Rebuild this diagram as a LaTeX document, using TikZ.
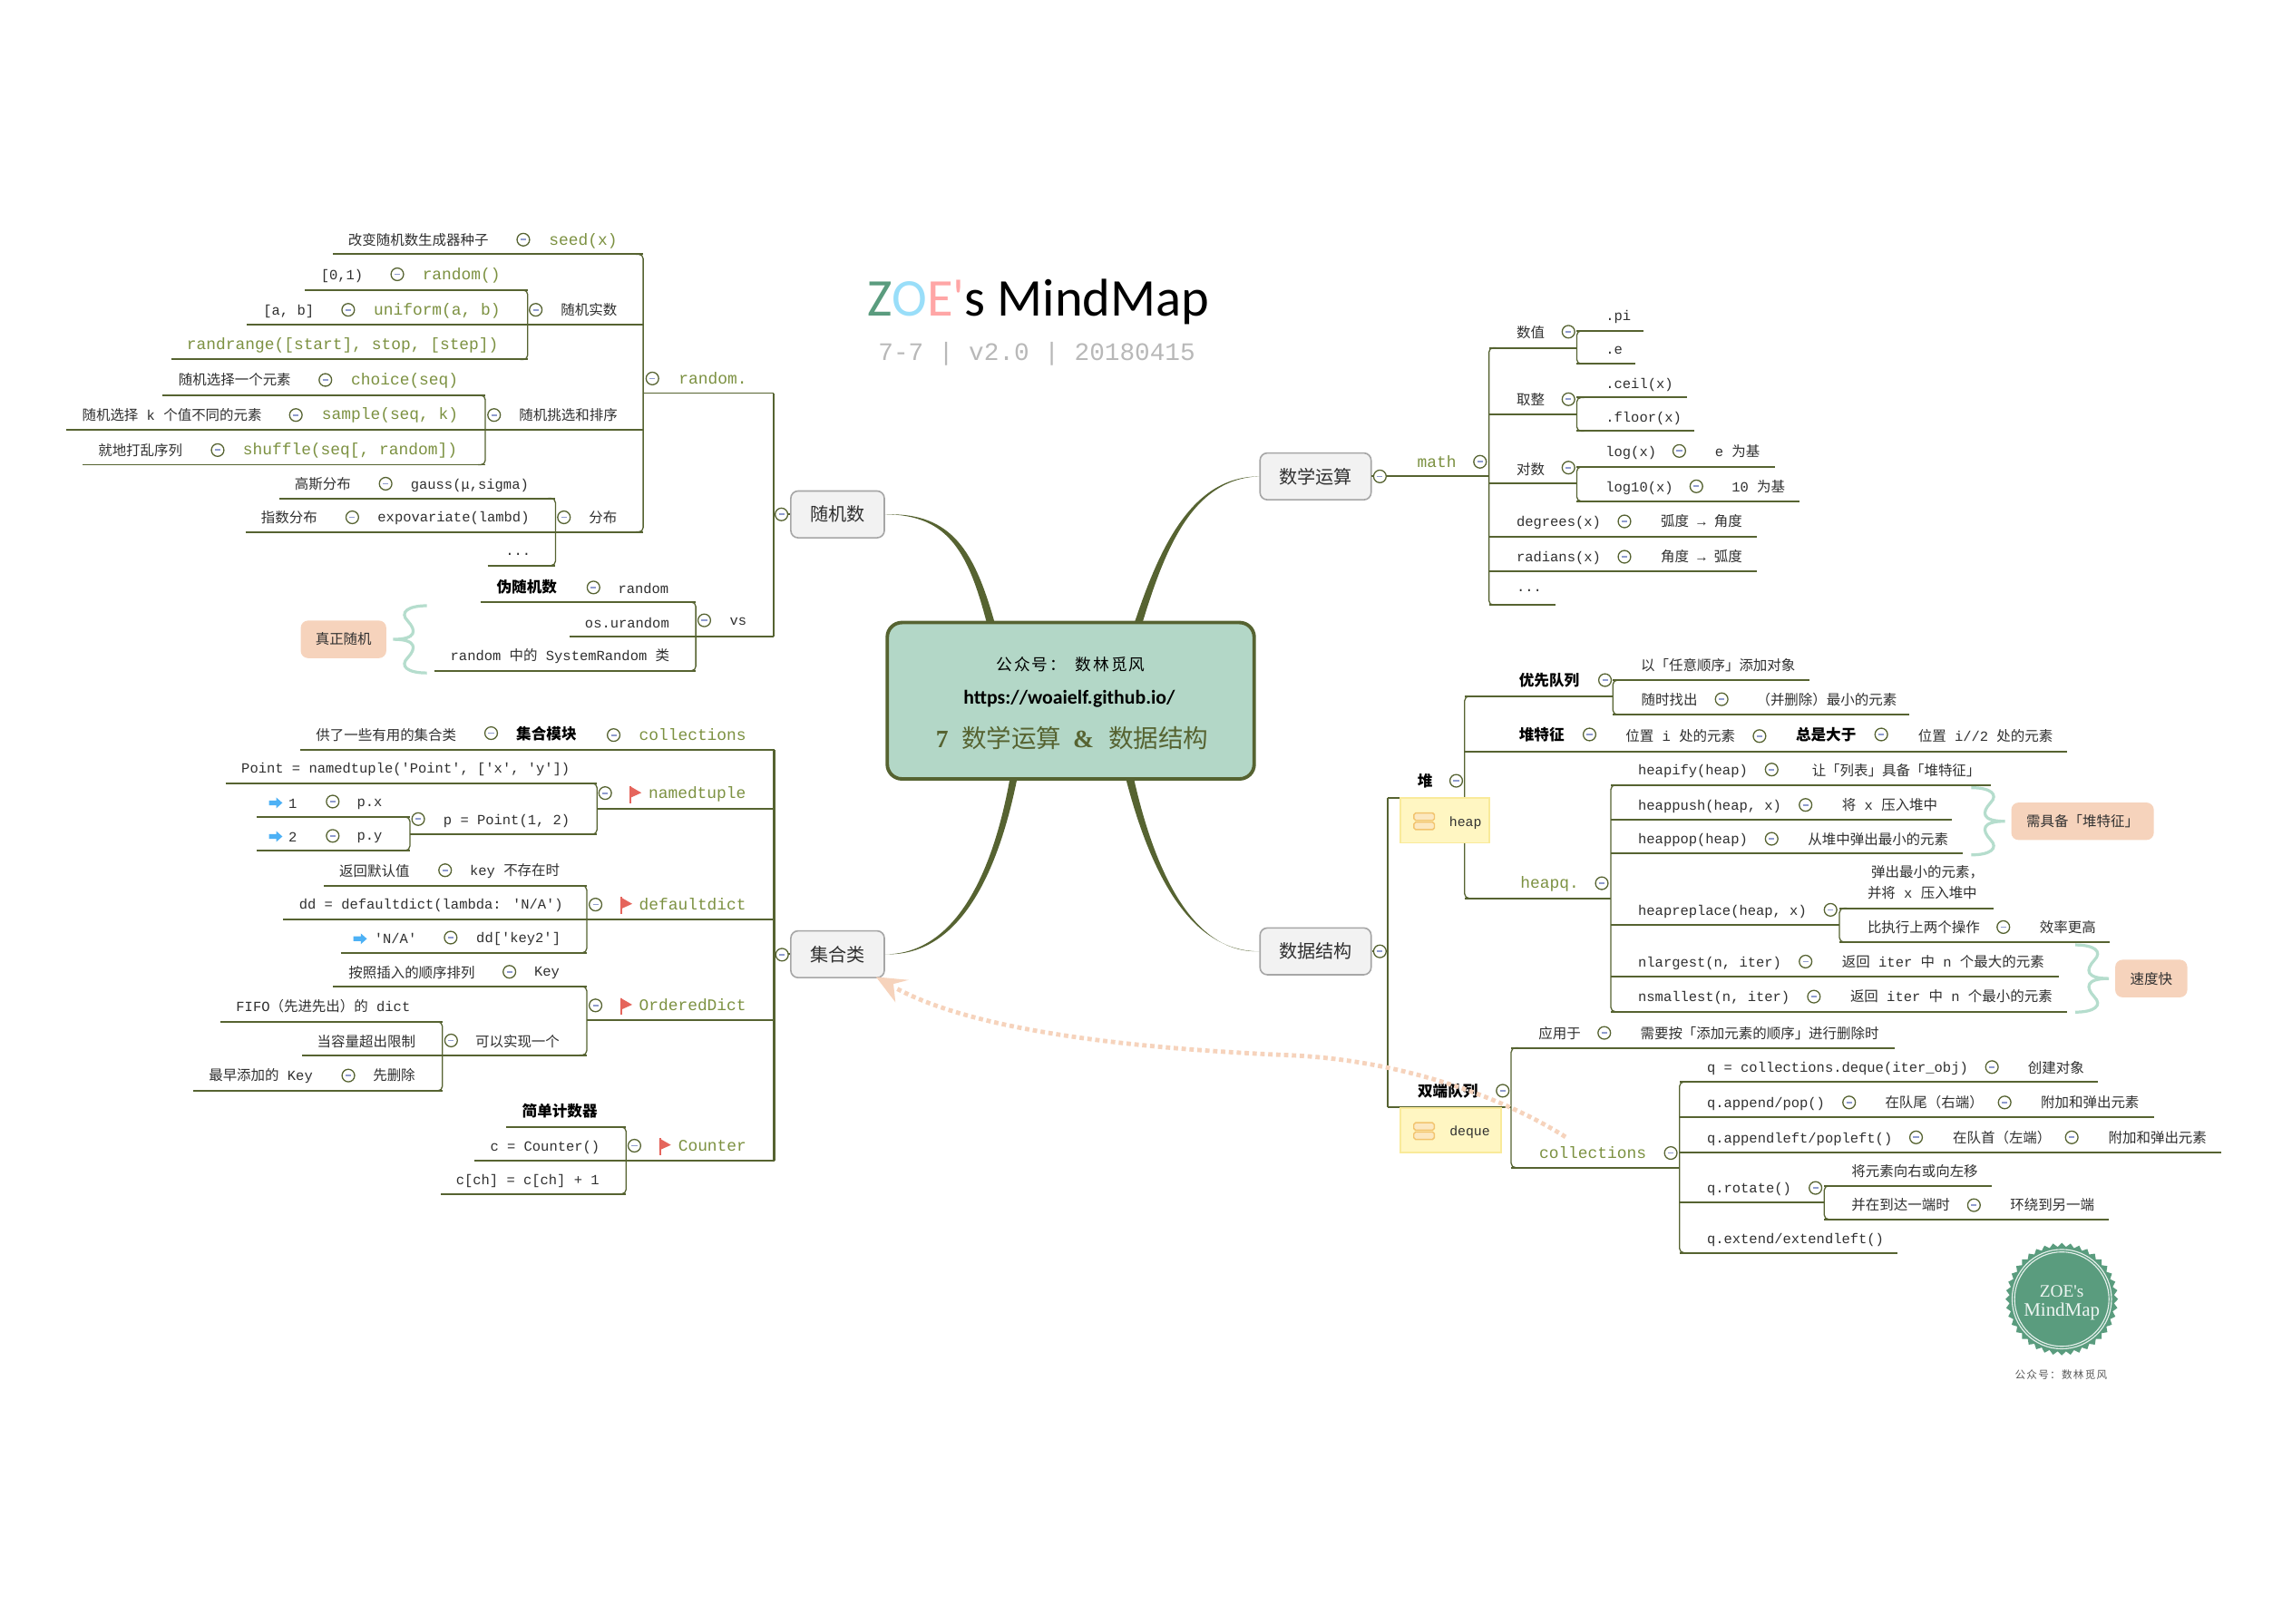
\documentclass[tikz,border=0pt]{standalone}
\usepackage{fontspec}
\usetikzlibrary{shapes.geometric,arrows.meta,calc}
\newfontfamily\lat{Liberation Mono}
\newfontfamily\cjk{Noto Sans CJK SC}
\newfontfamily\cjkw{Noto Sans CJK SC}[LetterSpace=11]
\newfontfamily\titlef{Carlito}
\newfontfamily\serf{Liberation Serif}
\let\cjkcur\cjk
\XeTeXinterchartokenstate=1
\newXeTeXintercharclass\cjkcls
\newcount\ci
\ci="3000 \loop \XeTeXcharclass\ci=\cjkcls \advance\ci 1 \ifnum\ci<"A000 \repeat
\ci="FF00 \loop \XeTeXcharclass\ci=\cjkcls \advance\ci 1 \ifnum\ci<"FFF0 \repeat
\XeTeXinterchartoks 0 \cjkcls={\begingroup\cjkcur}
\XeTeXinterchartoks \cjkcls 0={\endgroup}
\XeTeXinterchartoks 4095 \cjkcls={\begingroup\cjkcur}
\XeTeXinterchartoks \cjkcls 4095={\endgroup}
\definecolor{ol}{HTML}{566331}
\definecolor{grn}{HTML}{7C9141}
\definecolor{txtc}{HTML}{303030}
\definecolor{mint}{HTML}{B5DDCD}
\definecolor{peach}{HTML}{F6D3BC}
\definecolor{lav}{HTML}{8F9CCF}
\definecolor{cenf}{HTML}{B3D7C7}
\definecolor{badge}{HTML}{5A9C7E}
\definecolor{yfill}{HTML}{FFF6C2}
\definecolor{yline}{HTML}{F9EA9A}
\definecolor{ifill}{HTML}{FCE8C0}
\definecolor{iline}{HTML}{F2C46E}
\definecolor{flagc}{HTML}{E5655C}
\definecolor{arrc}{HTML}{4DB1F5}
\newcount\nid
\newcommand{\nxt}{\global\advance\nid by 1 }
\tikzset{
  ulst/.style={draw=ol,line width=1.2pt},
  spst/.style={draw=ol,line width=.8pt,rounded corners=3pt},
  thk/.style={draw=ol,line width=1.3pt},
  ctl/.style={circle,draw=ol,fill=white,minimum size=8.6pt,inner sep=0pt,line width=.8pt,
    path picture={\draw[lav,line width=1.1pt] (path picture bounding box.center)+(-1.9pt,0) -- +(1.9pt,0);}},
  txt/.style={inner sep=0pt,anchor=base west,text=txtc,font=\lat\fontsize{9.6}{11}\selectfont},
  gtxt/.style={inner sep=0pt,anchor=base west,text=grn,font=\lat\fontsize{11.1}{13}\selectfont},
  btxt/.style={inner sep=0pt,anchor=base west,text=black,font=\lat\bfseries\fontsize{10.3}{12}\selectfont},
  bnode/.style={draw=black!35,fill=black!5,line width=1pt,rounded corners=5pt,inner sep=0pt,
    text=txtc,font=\lat\fontsize{12.5}{14}\selectfont},
  note/.style={fill=peach,rounded corners=5pt,inner sep=0pt,text=txtc,font=\lat\fontsize{9.6}{11}\selectfont},
  ybox/.style={draw=yline,fill=yfill,line width=1.2pt,inner sep=0pt},
  brc/.style={draw=mint,line width=2pt},
  icn/.style={draw=iline,fill=ifill,line width=.9pt,rounded corners=1.2pt},
}
\newcommand{\ulin}[4]{\coordinate (#1-l) at (#2,#4); \coordinate (#1-r) at (#3,#4); \draw[ulst] (#1-l) -- (#1-r);}
\newcommand{\spR}[2]{\draw[spst] ($(#1-r)+(-5,0)$) -- (#1-r) -- (#2-r) -- ($(#2-r)+(-5,0)$);}
\newcommand{\spL}[2]{\draw[spst] ($(#1-l)+(5,0)$) -- (#1-l) -- (#2-l) -- ($(#2-l)+(5,0)$);}
\newcommand{\ct}[2]{\nxt\node[ctl] (o\the\nid) at (#1,#2) {};}
\newcommand{\tx}[3]{\nxt\node[txt] (t\the\nid) at ({#1},{#2+3.6}) {#3};}
\newcommand{\gx}[3]{\nxt\node[gtxt] (t\the\nid) at ({#1},{#2+3.6}) {#3};}
\newcommand{\bx}[3]{\nxt\node[btxt] (t\the\nid) at ({#1},{#2+3.8}) {#3};}
\newcommand{\flagic}[2]{\draw[draw=flagc,line width=1.3pt] ({#1+.6},{#2-5.6}) -- ({#1+.6},{#2+6});
  \fill[flagc] (#1,{#2-5.6}) -- ({#1+8},{#2-1}) -- (#1,{#2+2.6}) -- cycle;}
\newcommand{\arrowic}[2]{\fill[arrc] (#1,{#2-1.6}) -- ({#1+5},{#2-1.6}) -- ({#1+5},{#2-3.7}) -- ({#1+9.2},#2) -- ({#1+5},{#2+3.7}) -- ({#1+5},{#2+1.6}) -- (#1,{#2+1.6}) -- cycle;}
\newcommand{\curly}[3]{\begin{scope}[shift={(#1,#2)},xscale=#3]
  \draw[brc] (23,-23) .. controls (10,-23) and (4,-18.5) .. (10,-12.5) .. controls (16,-6) and (16,0) .. (0,0) .. controls (16,0) and (16,6) .. (10,12.5) .. controls (4,18.5) and (10,23) .. (23,23);
  \end{scope}}
\newcommand{\iconic}[2]{\draw[icn] (#1,{#2-5.7}) rectangle ({#1+14},{#2-.6}); \draw[icn] (#1,{#2+.6}) rectangle ({#1+14},{#2+5.7});}
\newcommand{\lw}[1]{\raisebox{-.7pt}{#1}}
\begin{document}
\begin{tikzpicture}[x=1pt,y=-1pt]
\useasboundingbox (0,0) rectangle (1568,1110.7);
\fill[white] (0,0) rectangle (1568,1110.7);

% branch nodes and centre
\node[bnode,minimum width=64pt,minimum height=32pt] (sui) at (573,352) {\lw{随机数}};
\node[bnode,minimum width=64pt,minimum height=32pt] (ji) at (573,653) {\lw{集合类}};
\node[bnode,minimum width=76pt,minimum height=32pt] (shu) at (900,326) {\lw{数学运算}};
\node[bnode,minimum width=76pt,minimum height=32pt] (ds) at (900,651) {\lw{数据结构}};
\coordinate (ca1) at (675.5,428); \coordinate (ca2) at (681,428);
\coordinate (cb1) at (775.5,428); \coordinate (cb2) at (781,428);
\coordinate (cc1) at (691,532); \coordinate (cc2) at (696,532);
\coordinate (cd1) at (770,532); \coordinate (cd2) at (775.5,532);
\fill[ol] (sui.east) .. controls (650,352) and (663,380) .. (ca1) -- (ca2) .. controls (667,378) and (652,350.5) .. (sui.east);
\fill[ol] (shu.west) .. controls (815,326) and (793,375) .. (cb1) -- (cb2) .. controls (797,375) and (816,327.5) .. (shu.west);
\fill[ol] (ji.east) .. controls (650,653) and (678,605) .. (cc1) -- (cc2) .. controls (681,607) and (652,654.5) .. (ji.east);
\fill[ol] (ds.west) .. controls (820,651) and (790,610) .. (cd1) -- (cd2) .. controls (793,610) and (822,652.5) .. (ds.west);
\node[draw=ol,fill=cenf,line width=2.4pt,rounded corners=10pt,minimum width=251pt,minimum height=107pt,inner sep=0pt] (cen) at (732.5,479.5) {};
\node[inner sep=0pt,font=\lat\fontsize{11}{13}\selectfont,text=black] (c1) at (732.5,454.7) {\let\cjkcur\cjkw 公众号： 数林觅风};
\node[inner sep=0pt,font=\titlef\bfseries\fontsize{13.5}{15}\selectfont,text=black] (c2) at (731.5,478) {https://woaielf.github.io/};
\node[inner sep=0pt,anchor=base west,font=\serf\bfseries\fontsize{17.1}{20}\selectfont,text=ol] (c3) at (640,511.5) {7\hspace{9pt}{\mdseries 数学运算}\hspace{8pt}\&\hspace{10pt}{\mdseries 数据结构}};

% title
\node[inner sep=0pt,anchor=base west,font=\titlef\fontsize{36.3}{40}\selectfont] (title) at (593,216.5) {\textcolor{badge}{Z}\textcolor{cyan!40!white}{O}\textcolor{red!35!white}{E'}s MindMap};
\node[inner sep=0pt,anchor=base west,font=\lat\fontsize{17.2}{19}\selectfont,text=black!28] (sub) at (600.7,246.5) {7-7 | v2.0 | 20180415};

% ===== left top: random
\ulin{seed}{228}{440}{174}
\ulin{rnd}{208.5}{361}{198.5}
\ulin{unif}{169}{440}{222}
\ulin{rrng}{117}{361}{246}
\spR{rnd}{rrng}
\ulin{choice}{111}{332}{270.5}
\ulin{samp}{45}{440}{294}
\ulin{shuf}{56.5}{332}{318}
\spR{choice}{shuf}
\ulin{gaus}{191}{380}{341}
\ulin{expo}{168}{440}{364}
\ulin{dots}{333.6}{380}{387}
\spR{gaus}{dots}
\spR{seed}{expo}
\ulin{wei}{328.6}{476}{412}
\ulin{vs}{389.5}{529}{435.4}
\ulin{sysr}{297}{476}{459}
\spR{wei}{sysr}
\ulin{rmod}{440}{529}{269}
\draw[thk] (rmod-r) -- (vs-r);
\coordinate (spa) at (529,352);
\draw[thk] (spa) -- (sui.west);

\ct{358}{164} \ct{271.8}{187.7} \ct{238.2}{212} \ct{366.5}{212} \ct{222.6}{260} \ct{338}{284} \ct{202.4}{284}
\ct{148.9}{308} \ct{263.8}{331} \ct{241}{354} \ct{385.8}{354} \ct{406}{402} \ct{481.8}{424.5} \ct{446.3}{259} \ct{534.6}{352}

\tx{238}{164}{改变随机数生成器种子}
\gx{375.5}{164}{seed(x)}
\tx{219.3}{188}{[0,1)}
\gx{288.8}{187.7}{random()}
\tx{180}{212}{[a, b]}
\gx{255.5}{212}{uniform(a, b)}
\tx{383.5}{212}{随机实数}
\gx{127.6}{235.3}{randrange([start], stop, [step])}
\tx{122}{260}{随机选择一个元素}
\gx{240}{259.5}{choice(seq)}
\tx{355}{284}{随机挑选和排序}
\tx{56}{284}{随机选择 k 个值不同的元素}
\gx{220}{283.5}{sample(seq, k)}
\tx{67}{308}{就地打乱序列}
\gx{166}{307.5}{shuffle(seq[, random])}
\tx{201.4}{331}{高斯分布}
\tx{280.8}{331}{gauss(μ,sigma)}
\tx{178.4}{354}{指数分布}
\tx{258.2}{353.5}{expovariate(lambd)}
\tx{402.7}{354}{分布}
\tx{345.6}{376.5}{...}
\bx{339.6}{401.5}{伪随机数}
\tx{422.7}{402.6}{random}
\tx{400}{425.9}{os.urandom}
\tx{499}{424.5}{vs}
\tx{308}{448.5}{random 中的 SystemRandom 类}
\gx{464.2}{259.3}{random.}
\node[note,minimum width=58.5pt,minimum height=25.7pt] (zsj) at (235,437.5) {\lw{真正随机}};
\curly{269}{437.5}{1}

% ===== left bottom: collections
\ulin{coll}{205.4}{529.6}{513}
\ulin{pnt}{154.4}{408.4}{536}
\ulin{ntup}{408.4}{529.6}{553.4}
\ulin{ppt}{280.4}{408.4}{570.9}
\ulin{px}{175.7}{280.4}{559}
\ulin{py}{175.7}{280.4}{582}
\spR{px}{py}
\spR{pnt}{ppt}
\ulin{fh}{221.6}{401.4}{606}
\ulin{dd}{193.7}{529.6}{629}
\ulin{na}{233.3}{401.4}{652}
\spR{fh}{na}
\ulin{az}{228}{401.4}{675}
\ulin{odct}{401.4}{529.6}{698}
\ulin{ksx}{302.6}{401.4}{722}
\spR{az}{ksx}
\ulin{fifo}{150.6}{302.6}{699.2}
\ulin{dqz}{206.7}{302.6}{722}
\ulin{zz}{132.3}{302.6}{746.4}
\spR{fifo}{zz}
\ulin{jd}{346.3}{428.3}{771.2}
\ulin{cnt}{324.5}{529.6}{794}
\ulin{cch}{301.7}{428.3}{817}
\spR{jd}{cch}
\draw[thk] (coll-r) -- (cnt-r);
\coordinate (spb) at (529.6,653);
\draw[thk] (spb) -- (ji.west);

\ct{336}{501.7} \ct{419.8}{503} \ct{227.6}{548.5} \ct{227.6}{572} \ct{286.1}{560.5} \ct{414}{542.7} \ct{304.5}{595.5} \ct{407.4}{619}
\ct{308.3}{641.6} \ct{348.5}{665} \ct{407.4}{688} \ct{308.6}{712} \ct{238.3}{736} \ct{434}{784} \ct{535}{653.3}

\tx{216}{503.3}{供了一些有用的集合类}
\bx{353}{502}{集合模块}
\gx{437}{503}{collections}
\tx{165}{525.4}{Point = namedtuple('Point', ['x', 'y'])}
\arrowic{184}{549.4}
\tx{197.2}{549.5}{1}
\tx{244}{548.3}{p.x}
\arrowic{184}{572.4}
\tx{197.2}{572.5}{2}
\tx{244}{571.5}{p.y}
\tx{303.2}{560.5}{p = Point(1, 2)}
\flagic{430.8}{543.5}
\gx{443.5}{542.7}{namedtuple}
\tx{232}{596}{返回默认值}
\tx{321.3}{595.5}{key 不存在时}
\tx{204.5}{618.7}{dd = defaultdict(lambda: 'N/A')}
\flagic{424.5}{619.5}
\gx{437}{619}{defaultdict}
\arrowic{241.8}{642.4}
\tx{256}{642}{'N/A'}
\tx{325.7}{641.6}{dd['key2']}
\tx{238.3}{665.3}{按照插入的顺序排列}
\tx{365.3}{664.5}{Key}
\flagic{424.5}{688.5}
\gx{437}{688}{OrderedDict}
\tx{161.4}{688.3}{FIFO（先进先出）的 dict}
\tx{216.8}{712.5}{当容量超出限制}
\tx{325}{712.5}{可以实现一个}
\tx{142.7}{735.5}{最早添加的 Key}
\tx{255}{736}{先删除}
\bx{357}{760.3}{简单计数器}
\tx{335.2}{784}{c = Counter()}
\flagic{451}{784.5}
\gx{463.8}{784}{Counter}
\tx{311.8}{807}{c[ch] = c[ch] + 1}

% ===== right top: math
\ulin{mth}{938}{1018.6}{325.7}
\ulin{sz}{1018.6}{1078.7}{238}
\ulin{pi}{1078.7}{1124.4}{226.4}
\ulin{ee}{1078.7}{1119}{249}
\spL{pi}{ee}
\ulin{qz}{1018.6}{1078.7}{283.7}
\ulin{ceil}{1078.7}{1154}{272}
\ulin{flr}{1078.7}{1159}{295}
\spL{ceil}{flr}
\ulin{ds1}{1018.6}{1078.7}{330.7}
\ulin{lg}{1078.7}{1214}{319.5}
\ulin{lgt}{1078.7}{1231}{343}
\spL{lg}{lgt}
\ulin{deg}{1018.6}{1202}{367.3}
\ulin{rad}{1018.6}{1202}{391}
\ulin{mdots}{1018.6}{1064}{414}
\spL{sz}{mdots}

\ct{1012.5}{316} \ct{944}{326} \ct{1073}{227} \ct{1073}{273.2} \ct{1073}{320} \ct{1148.8}{308.6} \ct{1160.5}{332.8} \ct{1111.3}{356.8} \ct{1111.3}{381}

\gx{969.4}{316}{math}
\tx{1037.3}{227.8}{数值}
\tx{1098.3}{216}{.pi}
\tx{1098.3}{239}{.e}
\tx{1037.3}{273.7}{取整}
\tx{1098.3}{262}{.ceil(x)}
\tx{1098.3}{285}{.floor(x)}
\tx{1037.3}{321}{对数}
\tx{1098.3}{308.6}{log(x)}
\tx{1173}{309}{e 为基}
\tx{1098.3}{332.8}{log10(x)}
\tx{1184.5}{333}{10 为基}
\tx{1037.3}{356.8}{degrees(x)}
\tx{1136}{356.8}{弧度 → 角度}
\tx{1037.3}{381}{radians(x)}
\tx{1136}{381}{角度 → 弧度}
\tx{1037.3}{401}{...}

% ===== right bottom: data structures
\ulin{yxdl}{1002}{1103.4}{476.4}
\ulin{rxyx}{1103.4}{1238}{465.4}
\ulin{sszc}{1103.4}{1306}{489}
\spL{rxyx}{sszc}
\ulin{dtz}{1002}{1414}{514.2}
\ulin{hify}{1102}{1361.8}{537.2}
\ulin{hpsh}{1102}{1335}{560.8}
\ulin{hpop}{1102}{1342.8}{583.7}
\ulin{hrep}{1102}{1258.4}{632.7}
\ulin{hpq}{1002}{1101.8}{614.7}
\ulin{tcz}{1258.4}{1363.7}{621.5}
\ulin{bzx}{1258.4}{1443.5}{644.7}
\spL{tcz}{bzx}
\ulin{nlg}{1102}{1408.5}{668.3}
\ulin{nsm}{1102}{1414}{692.3}
\spL{hify}{nsm}
\spL{yxdl}{hpq}
\ulin{dui}{949.5}{1002}{546}
\ulin{yyy}{1033.8}{1296}{717}
\ulin{sdl}{949.5}{1033.8}{757.5}
\ulin{cls}{1033.8}{1149}{799}
\spL{yyy}{cls}
\ulin{qq}{1149}{1435.5}{740.3}
\ulin{qap}{1149}{1473.5}{764.3}
\ulin{qal}{1149}{1519.4}{788.7}
\ulin{qrt}{1149}{1248}{822.6}
\ulin{jys}{1248}{1362.7}{811.4}
\ulin{bzd}{1248}{1442.6}{834.4}
\spL{jys}{bzd}
\ulin{qex}{1149}{1298}{857.3}
\spL{qq}{qex}
\draw[thk] (dui-l) -- (sdl-l);
\coordinate (spc) at (949.5,651);
\draw[thk] (ds.east) -- (spc);

% yellow boxes
\node[ybox,minimum width=61pt,minimum height=30.5pt] (heapb) at (988.5,561.5) {};
\node[ybox,minimum width=69pt,minimum height=30.5pt] (dqb) at (992.5,773.6) {};
\iconic{967.3}{562}
\iconic{967.2}{774}
\node[txt,anchor=base west,font=\lat\fontsize{9.2}{11}\selectfont] (heapt) at (991.3,565.4) {heap};
\node[txt,anchor=base west,font=\lat\fontsize{9.2}{11}\selectfont] (dqt) at (991.5,777.4) {deque};

\ct{1098}{465.4} \ct{1177.8}{478.5} \ct{1087.4}{502.6} \ct{1203.7}{503.7} \ct{1287}{502.6} \ct{996.2}{534.3} \ct{1212}{526.6}
\ct{1235.2}{550.8} \ct{1212}{574} \ct{1095.8}{604.4} \ct{1252.3}{622.6} \ct{1370.5}{634.4} \ct{1235.2}{658} \ct{1240.9}{682}
\ct{944}{651} \ct{1097.5}{706.8} \ct{1028}{746.4} \ct{1143}{789} \ct{1362.7}{730.2} \ct{1265}{754.4} \ct{1371.4}{754.4}
\ct{1310.8}{778.3} \ct{1417.3}{778.3} \ct{1242}{812.9} \ct{1350.4}{824.7}

\bx{1039}{465.4}{优先队列}
\tx{1122.4}{455}{以「任意顺序」添加对象}
\tx{1122.7}{478.9}{随时找出}
\tx{1201.4}{478.9}{（并删除）最小的元素}
\bx{1039}{503}{堆特征}
\tx{1112}{503.7}{位置 i 处的元素}
\bx{1228.4}{503}{总是大于}
\tx{1312}{503.7}{位置 i//2 处的元素}
\bx{969.6}{534.3}{堆}
\tx{1120.5}{526.8}{heapify(heap)}
\tx{1239.4}{527.2}{让「列表」具备「堆特征」}
\tx{1120.5}{550.8}{heappush(heap, x)}
\tx{1260}{551}{将 x 压入堆中}
\tx{1120.5}{574}{heappop(heap)}
\tx{1236.7}{574.5}{从堆中弹出最小的元素}
\gx{1040}{604.4}{heapq.}
\tx{1280}{597}{弹出最小的元素，}
\tx{1277.4}{611.2}{并将 x 压入堆中}
\tx{1120.5}{622.6}{heapreplace(heap, x)}
\tx{1277.4}{634.4}{比执行上两个操作}
\tx{1395.2}{634.4}{效率更高}
\tx{1120.5}{658}{nlargest(n, iter)}
\tx{1260}{658.4}{返回 iter 中 n 个最大的元素}
\tx{1120.5}{682}{nsmallest(n, iter)}
\tx{1265.6}{682}{返回 iter 中 n 个最小的元素}
\tx{1052.4}{707.4}{应用于}
\tx{1122}{707.4}{需要按「添加元素的顺序」进行删除时}
\bx{969.7}{746.7}{双端队列}
\gx{1052.8}{789}{collections}
\tx{1167.6}{730.2}{q = collections.deque(iter\_obj)}
\tx{1387.2}{730.6}{创建对象}
\tx{1167.6}{754.4}{q.append/pop()}
\tx{1289.5}{754.4}{在队尾（右端）}
\tx{1396}{754.6}{附加和弹出元素}
\tx{1167.6}{778.3}{q.appendleft/popleft()}
\tx{1335.8}{778.3}{在队首（左端）}
\tx{1442.2}{778.5}{附加和弹出元素}
\tx{1266.5}{801.7}{将元素向右或向左移}
\tx{1167.6}{812.9}{q.rotate()}
\tx{1266.5}{824.7}{并在到达一端时}
\tx{1375}{824.7}{环绕到另一端}
\tx{1167.6}{847.4}{q.extend/extendleft()}

\node[note,minimum width=97.5pt,minimum height=25.6pt] (xjb) at (1424.7,562) {\lw{需具备「堆特征」}};
\node[note,minimum width=49.3pt,minimum height=25.7pt] (sdk) at (1471.7,669.6) {\lw{速度快}};
\curly{1371.6}{562}{-1}
\curly{1442.7}{669.6}{-1}

% badge
\node[star,star points=40,star point ratio=1.075,fill=badge,inner sep=0pt,minimum size=77pt] (bdg) at (1410.5,889) {};
\draw[white!85!badge,line width=.7pt] (bdg.center) circle (34);
\draw[white!85!badge,line width=.7pt] (bdg.center) circle (32.3);
\node[inner sep=0pt,text=white!90!badge,font=\serf\fontsize{12}{14}\selectfont] (bt1) at (1410.5,883.5) {ZOE's};
\node[inner sep=0pt,text=white!90!badge,font=\serf\fontsize{13}{15}\selectfont] (bt2) at (1410.5,897.5) {MindMap};
\node[inner sep=0pt,text=black!65,font=\lat\fontsize{7.2}{9}\selectfont] (bt3) at (1410,940.6) {\let\cjkcur\cjkw 公众号：数林觅风};

% dashed relationship arrow
\coordinate (rela) at (1071,778);
\coordinate (relb) at (613.3,676.4);
\draw[draw=peach,line width=3pt,dash pattern=on 3pt off 2.4pt] (rela) .. controls (1030,752) and (960,725) .. (880,722) .. controls (790,718) and (672,708) .. (relb);
\fill[peach] ($(ji.south east)+(-6.2,-1)$) -- (621.6,670.6) -- (611.2,673.3) -- (612.6,685.9) -- cycle;
\end{tikzpicture}
\end{document}
